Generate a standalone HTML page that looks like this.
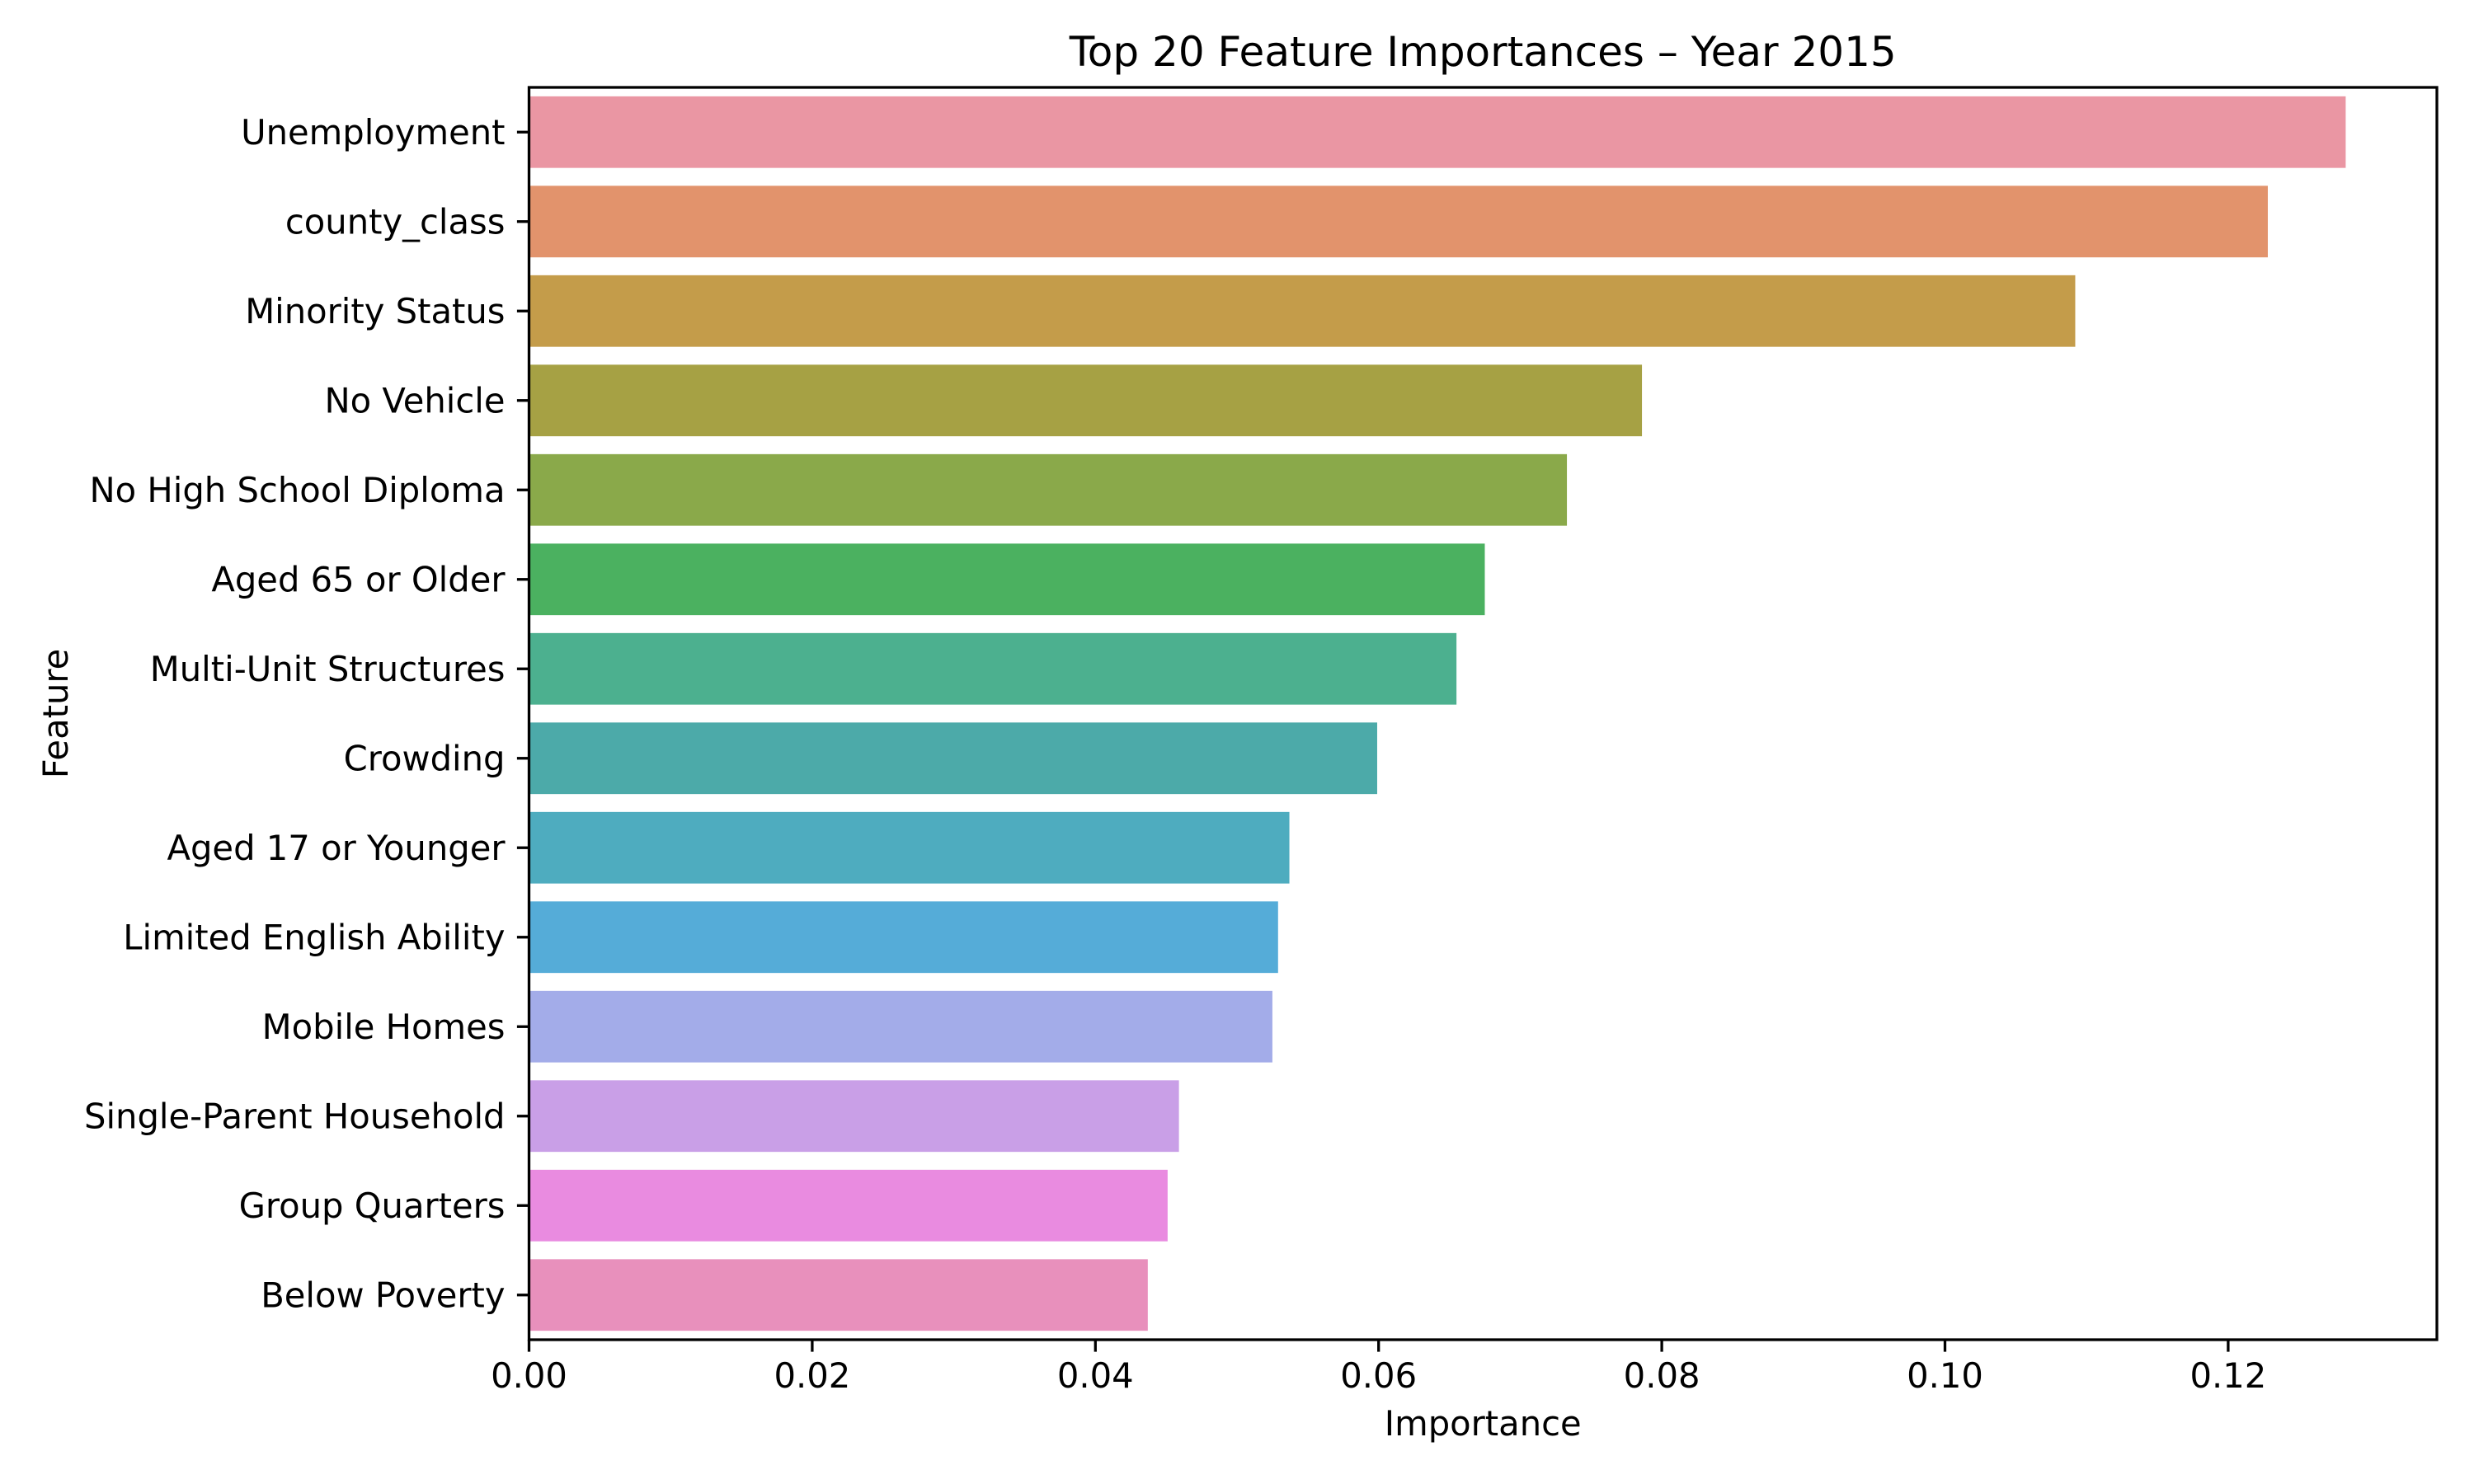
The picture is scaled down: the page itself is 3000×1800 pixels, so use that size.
<!DOCTYPE html>
<html><head><meta charset="utf-8"><style>
html,body{margin:0;padding:0;background:#fff;}
svg{display:block;font-family:"DejaVu Sans","Liberation Sans",sans-serif;}
</style></head><body>
<svg id="chart" width="3000" height="1800" viewBox="0 0 3000 1800"></svg>
<script>
const categories = ["Unemployment","county_class","Minority Status","No Vehicle","No High School Diploma","Aged 65 or Older","Multi-Unit Structures","Crowding","Aged 17 or Younger","Limited English Ability","Mobile Homes","Single-Parent Household","Group Quarters","Below Poverty"];
const importances = [0.1283,0.1228,0.1092,0.0786,0.0733,0.0675,0.0655,0.0599,0.0537,0.0529,0.0525,0.0459,0.0451,0.0437];
const barColors = ["#ea96a3","#e2936c","#c49c4a","#a6a144","#8aa94a","#4bb160","#4cb08f","#4caaa9","#4eacbf","#55acd8","#a3ace9","#c99fe7","#e98be0","#e890bc"];
const xTicks = [0,0.02,0.04,0.06,0.08,0.10,0.12];
const xTickLabels = ["0.00","0.02","0.04","0.06","0.08","0.10","0.12"];

const NS="http://www.w3.org/2000/svg";
const svg=document.getElementById('chart');
const L=641.5,R=2955,T=106,B=1625;
const xPerUnit=343.4/0.02;
function xs(v){return L+v*xPerUnit;}
const band=(B-T)/categories.length;
function yc(i){return T+band*(i+0.5);}
function mk(tag,attrs,parent){const e=document.createElementNS(NS,tag);for(const k in attrs)e.setAttribute(k,attrs[k]);(parent||svg).appendChild(e);return e;}

categories.forEach((c,i)=>{
  const r=mk('rect',{x:xs(0),y:yc(i)-band*0.4,width:xs(importances[i])-xs(0),height:band*0.8,fill:barColors[i]});
  
  
  const tk=mk('line',{x1:L-14.6,x2:L,y1:yc(i),y2:yc(i),stroke:'#000','stroke-width':3.3});
  
  
  const t=mk('text',{x:L-29,y:yc(i),'font-size':41.7,'text-anchor':'end','dominant-baseline':'central',fill:'#000'});
  t.textContent=c;
  
  
});
xTicks.forEach((v,i)=>{
  const tk=mk('line',{x1:xs(v),x2:xs(v),y1:B,y2:B+14.6,stroke:'#000','stroke-width':3.3});
  
  
  const t=mk('text',{x:xs(v),y:B+58,'font-size':41.7,'text-anchor':'middle',fill:'#000'});
  t.textContent=xTickLabels[i];
  
  
});
const frame=mk('rect',{x:L,y:T,width:R-L,height:B-T,fill:'none',stroke:'#000','stroke-width':3.3});


const title=mk('text',{x:(L+R)/2,y:80,'font-size':50,'text-anchor':'middle',fill:'#000'});
title.textContent='Top 20 Feature Importances \u2013 Year 2015';


const xl=mk('text',{x:(L+R)/2,y:1741,'font-size':41.7,'text-anchor':'middle',fill:'#000'});
xl.textContent='Importance';


const yl=mk('text',{x:0,y:0,'font-size':41.7,'text-anchor':'middle',fill:'#000',transform:'translate(82,'+((T+B)/2)+') rotate(-90)'});
yl.textContent='Feature';


</script>
</body></html>
